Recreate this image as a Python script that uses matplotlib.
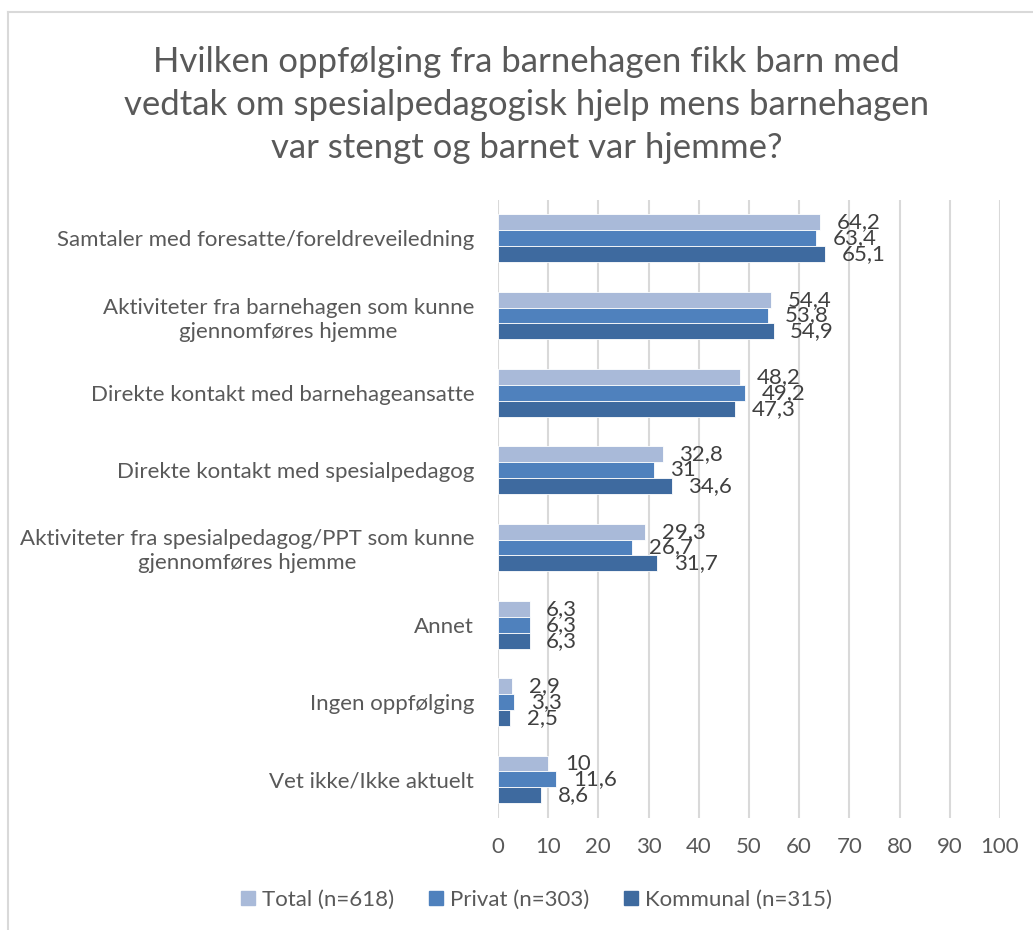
import matplotlib
matplotlib.use("Agg")
import matplotlib.pyplot as plt
import numpy as np
from matplotlib.lines import Line2D

categories = [
    "Samtaler med foresatte/foreldreveiledning",
    "Aktiviteter fra barnehagen som kunne\ngjennomføres hjemme",
    "Direkte kontakt med barnehageansatte",
    "Direkte kontakt med spesialpedagog",
    "Aktiviteter fra spesialpedagog/PPT som kunne\ngjennomføres hjemme",
    "Annet",
    "Ingen oppfølging",
    "Vet ikke/Ikke aktuelt",
]
total = [64.2, 54.4, 48.2, 32.8, 29.3, 6.3, 2.9, 10]
privat = [63.4, 53.8, 49.2, 31, 26.7, 6.3, 3.3, 11.6]
kommunal = [65.1, 54.9, 47.3, 34.6, 31.7, 6.3, 2.5, 8.6]
series_names = ["Total (n=618)", "Privat (n=303)", "Kommunal (n=315)"]
colors = ["#A9BAD9", "#4F81BD", "#3E6A9F"]

plt.rcParams["font.family"] = ["Lato", "DejaVu Sans"]
text_col = "#595959"
label_col = "#404040"

fig = plt.figure(figsize=(10.33, 9.30), dpi=100)
ax = fig.add_axes([0.482, 0.1204, 0.486, 0.665])

n = len(categories)
y = np.arange(n)
h = 0.205
for i, (vals, c) in enumerate(zip([total, privat, kommunal], colors)):
    pos = y + (i - 1) * h
    ax.barh(pos, vals, height=h, color=c, edgecolor="white", linewidth=0.6, zorder=3)
    for p, v in zip(pos, vals):
        txt = f"{v:g}".replace(".", ",")
        ax.annotate(txt, (v, p), xytext=(12, 0), textcoords="offset points",
                    ha="left", va="center", fontsize=16, color=label_col, zorder=4)

ax.set_xlim(0, 100)
ax.set_ylim(n - 0.5, -0.5)
ax.set_xticks(range(0, 101, 10))
ax.set_yticks(y)
ax.set_yticklabels(categories, fontsize=16, color=text_col, ha="right")
for lbl in ax.get_yticklabels():
    lbl.set_multialignment("center")
    lbl.set_linespacing(1.25)
ax.tick_params(axis="y", length=0, pad=17)
ax.tick_params(axis="x", length=0, labelsize=16, labelcolor=text_col, pad=14)
ax.grid(axis="x", color="#D9D9D9", linewidth=1.5, zorder=0)
for s in ax.spines.values():
    s.set_visible(False)

fig.text(0.51, 0.887, "Hvilken oppfølging fra barnehagen fikk barn med\nvedtak om spesialpedagogisk hjelp mens barnehagen\nvar stengt og barnet var hjemme?",
         fontsize=25, color=text_col, ha="center", va="center", linespacing=1.42)

handles = [Line2D([], [], marker="s", linestyle="none", markersize=10,
                  markerfacecolor=c, markeredgecolor=c) for c in colors]
fig.legend(handles, series_names, loc="center", bbox_to_anchor=(0.519, 0.032),
           ncol=3, frameon=False, fontsize=16, labelcolor=text_col,
           handlelength=0.7, handletextpad=0.3, columnspacing=1.5)

fig.add_artist(Line2D([0.008, 0.008], [0, 0.987], color="#D9D9D9", linewidth=1.5,
                      transform=fig.transFigure))
fig.add_artist(Line2D([0.008, 1], [0.987, 0.987], color="#D9D9D9", linewidth=1.5,
                      transform=fig.transFigure))

fig.savefig("out.png", dpi=100)
